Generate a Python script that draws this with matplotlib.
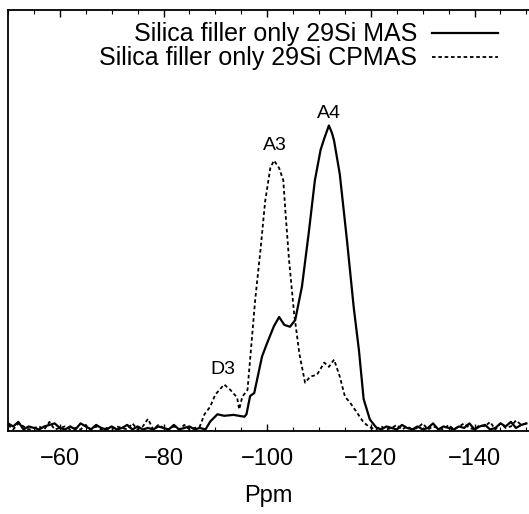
import matplotlib.pyplot as plt
import numpy as np

plt.rcParams['font.family'] = ['Liberation Sans', 'DejaVu Sans']

# baseline ppm grids (1 ppm steps) for the noisy flat parts
base_left = np.arange(-50, -88, -1)     # -50 .. -87
base_right = np.arange(-122, -151, -1)  # -122 .. -150

# 29Si MAS (solid)
mas_base_left = [0.02, 0.01, 0.025, 0.0, 0.01, 0.005, 0.0, 0.01, 0.015, 0.02,
                 0.005, 0.0, 0.01, 0.0, 0.02, 0.01, 0.0, 0.015, 0.005, 0.0,
                 0.01, 0.0, 0.005, 0.015, 0.0, 0.01, 0.0, 0.005, 0.0, 0.01,
                 0.005, 0.0, 0.015, 0.0, 0.005, 0.01, 0.0, 0.005]
mas_peak_ppm = [-88.1, -89.0, -90.4, -91.7, -93.5, -95.6, -96.0, -96.7, -97.5,
                -99.0, -100.0, -101.3, -102.3, -103.3, -104.4, -105.4, -106.7,
                -108.0, -109.2, -110.3, -111.0, -111.9, -112.5, -112.9, -114.0,
                -115.4, -116.7, -117.7, -118.6, -119.8, -121.0]
mas_peak_val = [0.0, 0.026, 0.05, 0.045, 0.048, 0.042, 0.05, 0.11, 0.12,
                0.24, 0.285, 0.34, 0.37, 0.344, 0.338, 0.36, 0.47,
                0.645, 0.82, 0.92, 0.957, 1.0, 0.975, 0.95, 0.84,
                0.62, 0.40, 0.26, 0.10, 0.033, 0.007]
mas_base_right = [0.0, 0.01, 0.005, 0.0, 0.015, 0.005, 0.0, 0.01, 0.0, 0.005,
                  0.02, 0.0, 0.01, 0.005, 0.0, 0.01, 0.005, 0.02, 0.0, 0.01,
                  0.015, 0.0, 0.005, 0.02, 0.01, 0.025, 0.005, 0.015, 0.02]

# 29Si CPMAS (dashed)
cp_base_left = [0.015, 0.0, 0.02, 0.01, 0.0, 0.005, 0.01, 0.0, 0.025, 0.0,
                0.005, 0.01, 0.0, 0.005, 0.0, 0.015, 0.0, 0.01, 0.0, 0.005,
                0.0, 0.01, 0.005, 0.0, 0.02, 0.0, 0.01, 0.035, 0.0, 0.015,
                0.005, 0.0, 0.01, 0.0, 0.015, 0.0, 0.005, 0.01]
cp_peak_ppm = [-87.9, -89.0, -90.0, -91.7, -92.9, -94.2, -94.6, -95.2, -96.2,
               -96.8, -97.7, -98.7, -99.6, -100.6, -101.3, -102.3, -103.1,
               -103.5, -104.2, -105.2, -106.2, -107.3, -108.3, -109.6, -111.0,
               -111.9, -112.9, -114.0, -115.0, -116.0, -117.3, -118.6, -119.8,
               -121.0]
cp_peak_val = [0.05, 0.075, 0.115, 0.148, 0.13, 0.105, 0.066, 0.108, 0.13,
               0.25, 0.43, 0.59, 0.75, 0.86, 0.885, 0.86, 0.82,
               0.72, 0.56, 0.38, 0.25, 0.154, 0.174, 0.18, 0.22,
               0.206, 0.23, 0.174, 0.108, 0.088, 0.056, 0.023, 0.007,
               0.0]
cp_base_right = [0.01, 0.0, 0.005, 0.015, 0.0, 0.01, 0.0, 0.005, 0.02, 0.0,
                 0.01, 0.005, 0.0, 0.015, 0.0, 0.01, 0.02, 0.005, 0.0, 0.015,
                 0.01, 0.025, 0.0, 0.02, 0.005, 0.01, 0.03, 0.015, 0.02]

mas_x = np.concatenate([base_left, mas_peak_ppm, base_right])
mas_y = np.concatenate([mas_base_left, mas_peak_val, mas_base_right])
cp_x = np.concatenate([base_left, cp_peak_ppm, base_right])
cp_y = np.concatenate([cp_base_left, cp_peak_val, cp_base_right])

labels = ["Silica filler only 29Si MAS", "Silica filler only 29Si CPMAS"]
peak_names = ["A4", "A3", "D3"]
peak_pos = [(-111.9, 1.04), (-101.5, 0.935), (-91.4, 0.197)]

fig = plt.figure(figsize=(5.29, 5.14), dpi=100)
ax = fig.add_axes([8 / 529, 1 - 431 / 514, 1 - 8 / 529, 421 / 514])

ax.plot(mas_x, mas_y, color='black', lw=1.6, label=labels[0])
ax.plot(cp_x, cp_y, color='black', lw=1.3, linestyle=(0, (2, 1.5)), label=labels[1])

for name, (px, py) in zip(peak_names, peak_pos):
    ax.text(px, py, name, ha='center', va='center', fontsize=14)

ax.set_xlim(-50, -150.5)
ax.set_ylim(-0.005, 1.38)
ax.set_xticks([-60, -80, -100, -120, -140])
ax.set_xticks(np.arange(-50, -151, -5), minor=True)
ax.set_yticks([])
ax.tick_params(axis='x', which='major', direction='in', length=5, width=1,
               top=True, labelsize=17, pad=12)
ax.tick_params(axis='x', which='minor', direction='in', length=3, width=0.8, top=True)
ax.spines['right'].set_visible(False)
for s in ['left', 'top', 'bottom']:
    ax.spines[s].set_linewidth(1.3)
ax.set_xlabel("Ppm", fontsize=17, labelpad=11)

ax.legend(loc='upper right', frameon=False, markerfirst=False, fontsize=18,
          handlelength=2.64, handletextpad=0.6, labelspacing=0.0,
          borderaxespad=0.3, bbox_to_anchor=(0.974, 1.012))

plt.savefig("out.png", dpi=100)
